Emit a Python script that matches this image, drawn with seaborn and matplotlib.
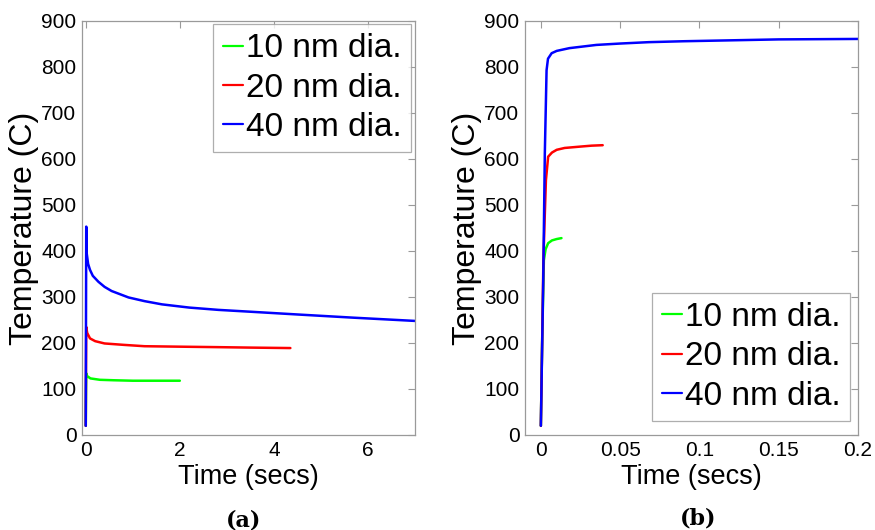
import numpy as np
import pandas as pd
import matplotlib
matplotlib.use("Agg")
import matplotlib.pyplot as plt
import seaborn as sns

# ---- data ----
labels = ["10 nm dia.", "20 nm dia.", "40 nm dia."]
colors = ["#00ff00", "#ff0000", "#0000ff"]

# panel (a): long-time response
a10_t = [0, 0.005, 0.01, 0.03, 0.1, 0.3, 0.6, 1.0, 1.5, 2.0]
a10_T = [20, 100, 134, 128, 123, 120, 119, 118, 118, 118]
a20_t = [0, 0.005, 0.01, 0.03, 0.09, 0.2, 0.4, 0.8, 1.25, 2.0, 2.8, 3.5, 4.35]
a20_T = [20, 150, 235, 222, 210, 204, 199, 196, 193, 192, 191, 190, 189]
a40_t = [0, 0.005, 0.01, 0.02, 0.05, 0.09, 0.15, 0.27, 0.4, 0.55, 0.91, 1.25, 1.62, 2.2, 2.82, 3.5, 4.5, 5.7, 7.0]
a40_T = [20, 250, 453, 395, 372, 359, 346, 333, 322, 313, 299, 291, 284, 277, 272, 268, 262, 255, 248]

# panel (b): short-time response
b10_t = [0, 0.0008, 0.0019, 0.003, 0.0046, 0.007, 0.01, 0.013]
b10_T = [20, 200, 380, 404, 417, 423, 426, 428]
b20_t = [0, 0.0008, 0.0016, 0.0024, 0.0032, 0.0046, 0.007, 0.01, 0.015, 0.025, 0.032, 0.039]
b20_T = [20, 200, 380, 470, 554, 605, 614, 620, 624, 627, 629, 630]
b40_t = [0, 0.0008, 0.0015, 0.0025, 0.0036, 0.0045, 0.0068, 0.01, 0.018, 0.035, 0.05, 0.068, 0.09, 0.12, 0.15, 0.2]
b40_T = [20, 190, 337, 612, 793, 818, 830, 835, 841, 848, 851, 854, 856, 858, 860, 861]

a_ticks_x = [0, 2, 4, 6]
b_ticks_x = [0, 0.05, 0.1, 0.15, 0.2]
b_ticklabels_x = ["0", "0.05", "0.1", "0.15", "0.2"]
y_ticks = list(range(0, 901, 100))


def frame(ts, Ts):
    parts = []
    for lab, t, T in zip(labels, ts, Ts):
        parts.append(pd.DataFrame({"t": t, "T": T, "series": lab}))
    return pd.concat(parts, ignore_index=True)


dfa = frame([a10_t, a20_t, a40_t], [a10_T, a20_T, a40_T])
dfb = frame([b10_t, b20_t, b40_t], [b10_T, b20_T, b40_T])

sns.set_style("white")
plt.rcParams["font.family"] = ["Liberation Sans", "DejaVu Sans"]
plt.rcParams["text.color"] = "black"
plt.rcParams["axes.labelcolor"] = "black"
plt.rcParams["xtick.color"] = "black"
plt.rcParams["ytick.color"] = "black"

fig = plt.figure(figsize=(8.75, 5.3), dpi=100)
W, H = 875, 530
bot = (530 - 435) / H
hgt = 414 / H
axA = fig.add_axes([82 / W, bot, (415 - 82) / W, hgt])
axB = fig.add_axes([525 / W, bot, (858 - 525) / W, hgt])

pal = dict(zip(labels, colors))
gray = "#9a9a9a"

for ax, df, xlim, xt, xtl, legloc, anchor in [
    (axA, dfa, (-0.08, 7), a_ticks_x, [str(v) for v in a_ticks_x], "upper right", (411 / W, 1 - 24 / H)),
    (axB, dfb, (-0.01, 0.2), b_ticks_x, b_ticklabels_x, "lower right", (850 / W, 1 - 421 / H)),
]:
    sns.lineplot(data=df, x="t", y="T", hue="series", palette=pal, sort=False,
                 estimator=None, linewidth=1.8, ax=ax)
    ax.set_xlim(*xlim)
    ax.set_ylim(0, 900)
    ax.set_xticks(xt)
    ax.set_xticklabels(xtl)
    ax.set_yticks(y_ticks)
    ax.tick_params(direction="in", top=True, right=True, length=5, width=0.8,
                   color=gray, labelcolor="black", labelsize=15, pad=4)
    for s in ax.spines.values():
        s.set_color(gray)
        s.set_linewidth(0.9)
    ax.set_xlabel("Time (secs)", fontsize=19.5, labelpad=3)
    ax.set_ylabel("Temperature (C)", fontsize=23, labelpad=2)
    leg = ax.legend(loc=legloc, bbox_to_anchor=anchor, bbox_transform=fig.transFigure,
                    fontsize=24, handlelength=0.62, handletextpad=0.08,
                    labelspacing=0.25, borderpad=0.28,
                    borderaxespad=0.0, frameon=True, fancybox=False, title=None)
    leg.get_frame().set_edgecolor(gray)
    leg.get_frame().set_linewidth(0.9)
    for ln in leg.get_lines():
        ln.set_linewidth(1.6)
    for tx in leg.get_texts():
        tx.set_color("black")

fig.text(244 / W, 1 - 520 / H, "(a)", fontsize=16, fontweight="bold",
         family=["DejaVu Serif"], ha="center", va="center")
fig.text(698 / W, 1 - 518 / H, "(b)", fontsize=16, fontweight="bold",
         family=["DejaVu Serif"], ha="center", va="center")

fig.savefig("out.png", dpi=100)
